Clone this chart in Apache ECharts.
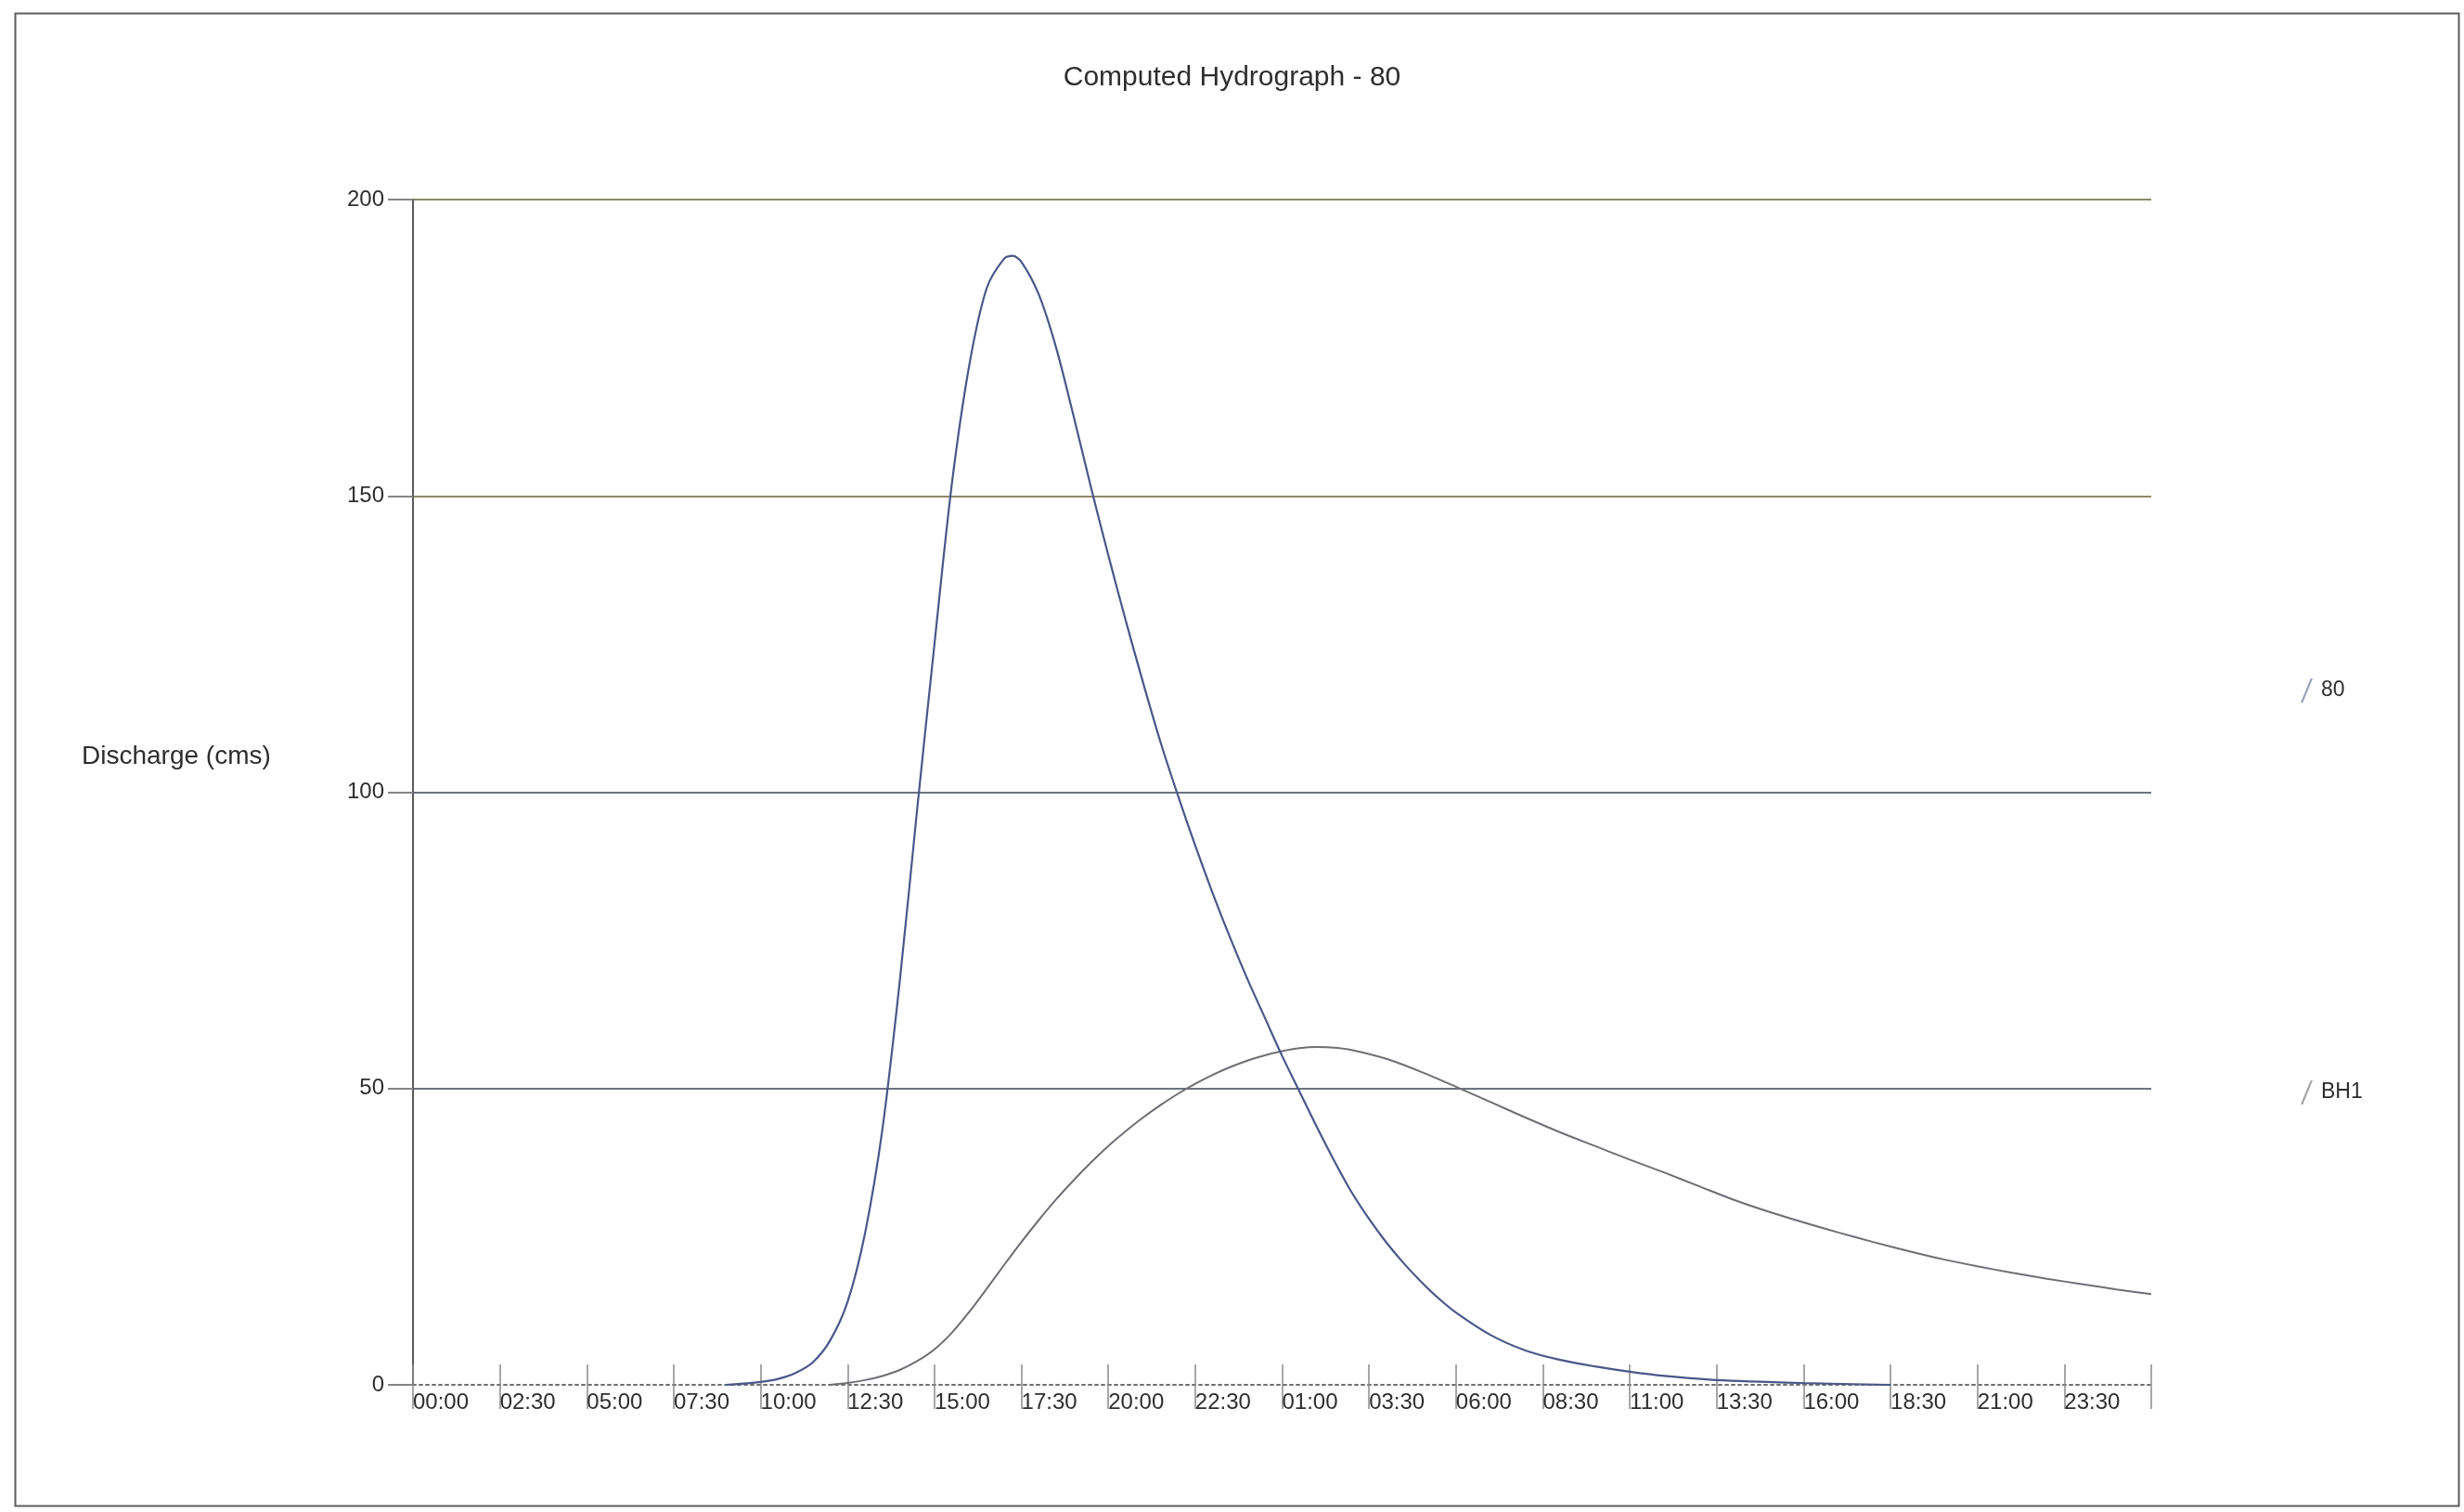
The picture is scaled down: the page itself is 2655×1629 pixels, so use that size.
<!DOCTYPE html>
<html>
<head>
<meta charset="utf-8">
<title>Computed Hydrograph - 80</title>
<script src="https://cdn.jsdelivr.net/npm/echarts@6/dist/echarts.min.js"></script>
<style>
  html, body { margin: 0; padding: 0; background: #ffffff; }
  #chart { width: 2655px; height: 1629px; }
</style>
</head>
<body>
<div id="chart"></div>
<script>
// Time axis: hours from 00:00 of day 1 to 02:00 of day 3, labelled every 2.5 h
const tickLabels = ['00:00', '02:30', '05:00', '07:30', '10:00', '12:30', '15:00', '17:30', '20:00', '22:30',
                    '01:00', '03:30', '06:00', '08:30', '11:00', '13:30', '16:00', '18:30', '21:00', '23:30'];
const tickStep = 2.5;
const yTicks = [0, 50, 100, 150, 200];

// Hydrograph at junction 80 (hours, discharge in cms)
const hours80 = [9.0, 10.0, 10.5, 11.0, 11.5, 12.0, 12.5, 13.0, 13.5, 14.0, 14.5, 15.0, 15.5, 16.0, 16.5,
                 17.0, 17.25, 17.5, 18.0, 18.5, 19.0, 19.5, 20.0, 20.5, 21.0, 21.5, 22.0, 22.5, 23.0, 23.5,
                 24.0, 24.5, 25.0, 25.5, 26.0, 26.5, 27.0, 27.5, 28.0, 28.5, 29.0, 29.5, 30.0, 31.0, 32.0,
                 33.0, 34.0, 35.0, 36.0, 37.5, 40.0, 42.5];
const q80 = [0, 0.5, 1, 2, 3.8, 7.5, 14, 25.5, 43, 68, 97, 125, 152, 172, 185,
             190, 190.5, 189.5, 184, 175, 163.5, 151.5, 140, 129, 118.5, 108.5, 99.5, 91, 83, 75.5,
             68.5, 62, 55.5, 49.5, 43.5, 37.8, 32.5, 28, 24, 20.5, 17.4, 14.6, 12.2, 8.4, 5.8,
             4.2, 3.1, 2.2, 1.5, 0.8, 0.3, 0];

// Hydrograph of sub-basin BH1
const hoursBH1 = [12.0, 12.5, 13.0, 13.5, 14.0, 14.5, 15.0, 15.5, 16.0, 16.5, 17.0, 17.5, 18.0, 18.5, 19.0,
                  19.5, 20.0, 20.5, 21.0, 21.5, 22.0, 22.5, 23.0, 23.5, 24.0, 24.5, 25.0, 25.5, 26.0, 26.5,
                  27.0, 28.0, 29.0, 30.0, 31.0, 32.0, 33.0, 34.0, 35.0, 36.0, 37.0, 38.0, 39.0, 40.0, 41.0,
                  42.0, 43.0, 44.0, 45.0, 46.0, 47.0, 48.0, 49.0, 50.0];
const qBH1 = [0, 0.3, 0.8, 1.5, 2.5, 4, 6, 8.8, 12.3, 16.2, 20.2, 24.1, 27.8, 31.3, 34.5,
              37.5, 40.3, 42.8, 45.1, 47.2, 49.1, 50.8, 52.3, 53.6, 54.7, 55.6, 56.3, 56.8, 57, 56.9,
              56.5, 55, 52.8, 50.3, 47.7, 45.1, 42.6, 40.3, 38, 35.8, 33.5, 31.2, 29.2, 27.4, 25.7,
              24.1, 22.6, 21.2, 20, 18.9, 17.9, 17, 16.1, 15.3];

const FONT = 'Liberation Sans, Arial, Helvetica, sans-serif';
const TEXT = '#2e2e2e';

const chart = echarts.init(document.getElementById('chart'), null, { renderer: 'canvas' });

const pairs = (xs, ys) => xs.map((x, i) => [x, ys[i]]);
const xMax = tickLabels.length * tickStep;

// slanted stroke used as legend marker
const slash = 'path://M0,22 L9,0 L11,0 L2,22 Z';

const option = {
  backgroundColor: '#ffffff',
  animation: false,
  title: {
    text: 'Computed Hydrograph - 80',
    left: 'center',
    top: 64,
    textStyle: { fontFamily: FONT, fontSize: 30, fontWeight: 'normal', color: TEXT }
  },
  legend: [
    {
      data: ['80'], left: 2474, top: 726, icon: slash, itemWidth: 13, itemHeight: 26, itemGap: 10,
      textStyle: { fontFamily: FONT, fontSize: 23, color: TEXT, padding: [0, 0, 0, 4] }
    },
    {
      data: ['BH1'], left: 2474, top: 1159, icon: slash, itemWidth: 13, itemHeight: 26, itemGap: 10,
      textStyle: { fontFamily: FONT, fontSize: 23, color: TEXT, padding: [0, 0, 0, 4] }
    }
  ],
  grid: { left: 445, right: 337, top: 215, bottom: 137, containLabel: false },
  xAxis: [
    {
      type: 'value', min: 0, max: xMax, interval: tickStep,
      axisLine: { show: true, onZero: false, lineStyle: { color: '#6f6f6f', width: 2, type: [3, 4] } },
      axisTick: { show: true, inside: false, length: 26, lineStyle: { color: '#8a8a8a', width: 1.5 } },
      axisLabel: {
        show: true, align: 'left', margin: 7, fontFamily: FONT, fontSize: 24, color: TEXT,
        formatter: v => {
          const i = Math.round(v / tickStep);
          return i < tickLabels.length ? tickLabels[i] : '';
        }
      },
      splitLine: { show: false }
    },
    {
      type: 'value', min: 0, max: xMax, interval: tickStep, position: 'bottom',
      axisLine: { show: false },
      axisTick: { show: true, inside: true, length: 22, lineStyle: { color: '#8a8a8a', width: 1.5 } },
      axisLabel: { show: false },
      splitLine: { show: false }
    }
  ],
  yAxis: {
    type: 'value', min: yTicks[0], max: yTicks[yTicks.length - 1], interval: 50,
    axisLine: { show: true, lineStyle: { color: '#5a5a5a', width: 2 } },
    axisTick: { show: true, length: 27, lineStyle: { color: '#858585', width: 2 } },
    axisLabel: { margin: 31, fontFamily: FONT, fontSize: 24, color: TEXT },
    splitLine: {
      show: true,
      lineStyle: { width: 2, color: ['#ffffff', '#6e7280', '#6e7280', '#8c8a66', '#8c8a66'] }
    }
  },
  series: [
    {
      name: '80', type: 'line', xAxisIndex: 0, smooth: 0.3, showSymbol: false,
      data: pairs(hours80, q80),
      lineStyle: { color: '#4b5789', width: 2.2 },
      itemStyle: { color: '#9aa0b8' },
      z: 3
    },
    {
      name: 'BH1', type: 'line', xAxisIndex: 0, smooth: 0.3, showSymbol: false,
      data: pairs(hoursBH1, qBH1),
      lineStyle: { color: '#6e6e74', width: 2 },
      itemStyle: { color: '#a5a5a5' },
      z: 2
    }
  ],
  graphic: [
    {
      type: 'rect', left: 14, top: 12, silent: true,
      shape: { width: 2633, height: 1608 },
      style: { fill: null, stroke: '#5c5c5c', lineWidth: 2 }
    },
    {
      type: 'text', left: 88, top: 801, silent: true,
      style: { text: 'Discharge (cms)', fontFamily: FONT, fontSize: 28, fill: TEXT }
    }
  ]
};

chart.setOption(option);
</script>
</body>
</html>
